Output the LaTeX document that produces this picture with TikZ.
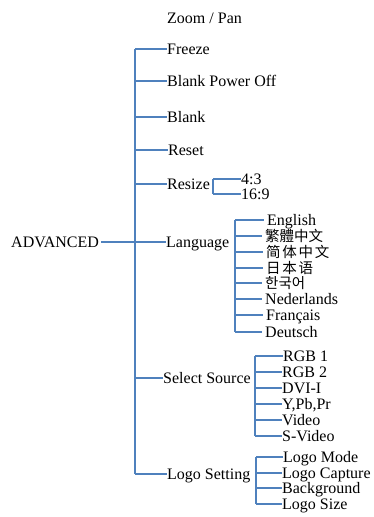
\documentclass[tikz,border=0pt]{standalone}
\usepackage{fontspec}
\setmainfont{Liberation Serif}
\newfontfamily\cjksc{Noto Sans CJK SC}
\newfontfamily\cjkscwide{Noto Sans CJK SC}[LetterSpace=12]
\newfontfamily\cjktc{Noto Sans CJK TC}
\newfontfamily\cjkkr{Noto Sans CJK KR}
\definecolor{treeblue}{RGB}{79,129,189}
\tikzset{
    lab/.style={
        font=\fontsize{16}{19}\selectfont, inner sep=0pt, anchor=west,
        text height=11pt, text depth=0pt
    },
    cjk/.style={
        font=\fontsize{14.5}{17}\selectfont, inner sep=0pt, anchor=west,
        text height=11pt, text depth=0pt
    },
    link/.style={draw=treeblue, line width=1.3pt}
}

\begin{document}
\begin{tikzpicture}[x=1pt,y=-1pt]

% --- frame ---
    \useasboundingbox (0,0) rectangle (374,517);

% --- geometry ---
    \coordinate (spine) at (135,0);   % main vertical line
    \coordinate (rbr)   at (213,0);   % resize bracket
    \coordinate (lbr)   at (235,0);   % language bracket
    \coordinate (sbr)   at (255,0);   % source bracket
    \coordinate (gbr)   at (256,0);   % logo bracket

% root
    \node[lab] (adv) at (11,242) {ADVANCED};

% first level
    \node[lab] (zoom)   at (167,18)  {Zoom / Pan};
    \node[lab] (freeze) at (167,49)  {Freeze};
    \node[lab] (bpo)    at (167,81)  {Blank Power Off};
    \node[lab] (blank)  at (167,117) {Blank};
    \node[lab] (reset)  at (168,150) {Reset};
    \node[lab] (resize) at (167,184) {Resize};
    \node[lab] (lang)   at (166,242) {Language};
    \node[lab] (select) at (163,378) {Select Source};
    \node[lab] (logo)   at (167,474) {Logo Setting};

% resize items
    \node[lab] (r43)  at (241,179) {4:3};
    \node[lab] (r169) at (241,194) {16:9};

% language items
    \node[lab] (eng) at (267,220) {English};
    \node[cjk] (tc)  at (265,236) {\cjktc 繁體中文};
    \node[cjk] (sc)  at (266,252) {\cjkscwide 简体中文};
    \node[cjk] (jp)  at (266,268) {\cjkscwide 日本语};
    \node[cjk] (kr)  at (265,283) {\cjkkr 한국어};
    \node[lab] (nl)  at (265,299) {Nederlands};
    \node[lab] (fr)  at (266,315) {Français};
    \node[lab] (de)  at (265,332) {Deutsch};

% source items
    \node[lab] (rgb1) at (283,356) {RGB 1};
    \node[lab] (rgb2) at (282,372) {RGB 2};
    \node[lab] (dvi)  at (282,388) {DVI-I};
    \node[lab] (ypb)  at (282,404) {Y,Pb,Pr};
    \node[lab] (vid)  at (282,420) {Video};
    \node[lab] (svid) at (282,436) {S-Video};

% logo items
    \node[lab] (lmode) at (283,457) {Logo Mode};
    \node[lab] (lcap)  at (282,473) {Logo Capture};
    \node[lab] (lbg)   at (282,488) {Background};
    \node[lab] (lsize) at (282,504) {Logo Size};

% spine and branches
    \draw[link] (spine |- freeze) -- (spine |- logo);
    \draw[link] ([xshift=2pt]adv.east) -- (lang.west);
    \foreach \n in {freeze,bpo,blank,reset,resize,select,logo}
        \draw[link] (spine |- \n.west) -- (\n.west);

% brackets
    \draw[link] (rbr |- r43) -- (rbr |- r169);
    \foreach \n in {r43,r169}
        \draw[link] (rbr |- \n) -- (\n.west);

    \draw[link] (lbr |- eng) -- (lbr |- de);
    \foreach \n in {eng,tc,sc,jp,kr,nl,fr,de}
        \draw[link] (lbr |- \n) -- ([xshift=-3pt]\n.west);

    \draw[link] (sbr |- rgb1) -- (sbr |- svid);
    \foreach \n in {rgb1,rgb2,dvi,ypb,vid,svid}
        \draw[link] (sbr |- \n) -- (\n.west);

    \draw[link] (gbr |- lmode) -- (gbr |- lsize);
    \foreach \n in {lmode,lcap,lbg,lsize}
        \draw[link] (gbr |- \n) -- (\n.west);

\end{tikzpicture}
\end{document}
